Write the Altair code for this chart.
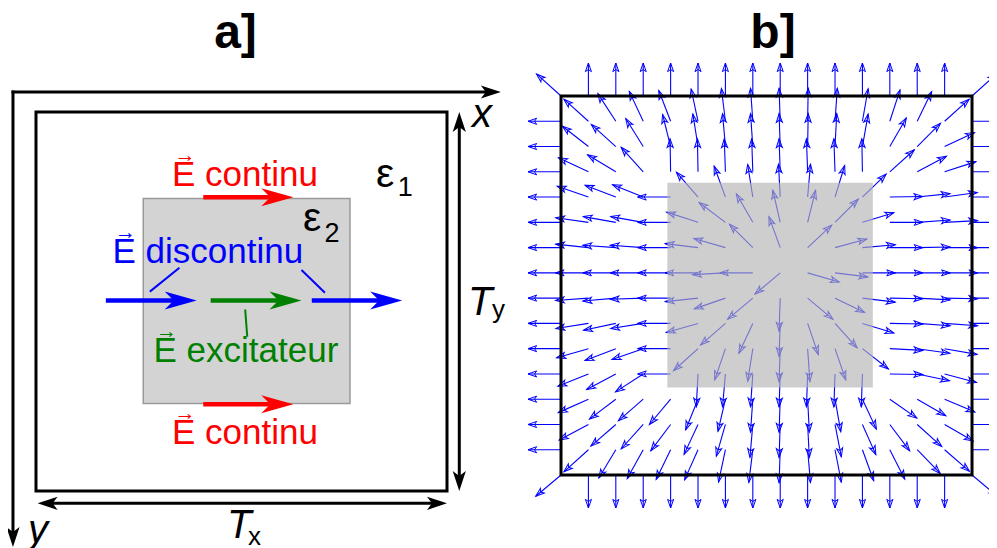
import math
import altair as alt
import pandas as pd

# ---------------- coordinate system: one unit = one period cell (Tx, Ty) ----------------
PX_X, PX_Y = 411, 379                     # pixels per cell unit
X_DOMAIN = [-0.0681, 2.3187]
Y_DOMAIN = [-0.2744, 1.1504]
W = round((X_DOMAIN[1] - X_DOMAIN[0]) * PX_X)
H = round((Y_DOMAIN[1] - Y_DOMAIN[0]) * PX_Y)

B_X0, B_Y0 = 1.2774, -0.0422              # origin of panel b's cell
GRID_N = 15                               # panel b: 16 x 16 nodes

# ---------------- panel a data ----------------
CELL = [0.0, 1.0, 0.0, 1.0]
INCL_A = [0.261, 0.764, 0.228, 0.769]
INCL_B = [0.2587, 0.7587, 0.2287, 0.7693]

AXIS_ORIGIN = (-0.0560, -0.0528)
AXIS_X_TIP = 1.1310
AXIS_Y_TIP = 1.1478
TY_X = 1.0299
TX_Y = 1.0325

FIELD_TAIL_X = [0.407, 0.407, 0.170, 0.425, 0.671]
FIELD_TIP_X = [0.626, 0.626, 0.391, 0.646, 0.891]
FIELD_Y = [0.225, 0.771, 0.4974, 0.4974, 0.4974]
FIELD_COLOR = ["#ff0000", "#ff0000", "#0000ff", "#008000", "#0000ff"]

LEADER_X = [0.277, 0.646]
LEADER_Y = [0.474, 0.417]
LEADER_X2 = [0.349, 0.703]
LEADER_Y2 = [0.411, 0.477]
GLEADER = [(0.509, 0.521, 0.514, 0.593)]

LABEL_TEXT = ["E continu", "E continu", "E discontinu", "E excitateur"]
LABEL_X = [0.3309, 0.3309, 0.1861, 0.2859]
LABEL_Y = [0.1953, 0.8760, 0.3976, 0.6604]
LABEL_COLOR = ["#ff0000", "#ff0000", "#0000ff", "#008000"]

EPS_TEXT = ["ε", "ε"]
EPS_X = [0.8273, 0.6496]
EPS_Y = [0.1979, 0.3140]
EPS_SUB = ["1", "2"]
EPS_SUB_X = [0.8800, 0.7020]
EPS_SUB_Y = [0.2216, 0.3422]

ITAL_TEXT = ["x", "y", "T", "T"]
ITAL_X = [1.0608, -0.0195, 1.0511, 0.4647]
ITAL_Y = [0.0396, 1.1372, 0.5356, 1.1240]
SUB_TEXT = ["y", "x"]
SUB_X = [1.1095, 0.5158]
SUB_Y = [0.5435, 1.1425]

TITLE_TEXT = ["a]", "b]"]
TITLE_X = [0.4854, 1.7932]
TITLE_Y = [-0.1689, -0.1689]

# ---------------- panel b: field direction (degrees, screen frame) at each node ----------------
QUIVER_DEG = [
    [-138, -90, -90, -90, -90, -90, -90, -90, -90, -90, -90, -90, -90, -90, -90, -42],
    [180, -138, -123, -115, -111, -102, -97, -94, -92, -89, -86, -80, -72, -64, -42, 0],
    [180, -142, -138, -122, -104, -99, -95, -94, -92, -89, -87, -80, -60, -45, -25, 0],
    [180, -155, -149, -132, -91, -91, -92, -92, -92, -92, -92, -91, -42, -28, -18, 0],
    [180, -161, -159, -158, 180, -131, -110, -99, -93, -85, -73, -44, -1, -6, -8, 0],
    [180, -172, -170, -170, 180, -162, -143, -120, -103, -76, -45, -17, 0, -4, -3, 0],
    [180, -174, -176, -176, 180, -173, -164, -135, -110, -43, -15, -5, 0, -1, 0, 0],
    [180, 180, 180, 180, 180, 180, 177, 180, 140, 16, 7, 0, 0, 0, 0, 0],
    [180, 176, 175, 178, 180, 174, 161, 140, 92, 40, 26, 7, 1, 3, 1, 0],
    [180, 171, 168, 171, 180, 164, 139, 115, 92, 71, 48, 17, 1, 4, 4, 0],
    [180, 164, 159, 161, 180, 138, 109, 99, 92, 86, 71, 38, 3, 8, 10, 0],
    [180, 158, 152, 147, 180, 93, 95, 94, 92, 92, 92, 92, 1, 12, 15, 0],
    [180, 156, 143, 139, 130, 112, 103, 94, 92, 87, 80, 65, 35, 30, 23, 0],
    [180, 152, 139, 132, 127, 115, 106, 95, 92, 87, 79, 66, 53, 42, 30, 0],
    [180, 138, 121, 119, 116, 114, 102, 97, 92, 85, 79, 70, 63, 46, 41, 0],
    [140, 90, 90, 90, 90, 90, 90, 90, 90, 90, 90, 90, 90, 90, 90, 40],
]
ARROW_PX = 33

# ---------------- helpers ----------------
FONT = "Liberation Sans"
HEAD_BIG = "M0,0 L0.28,1 L0,0.72 L-0.28,1 Z"
HEAD_BLACK = "M0,0 L0.33,1 L0,0.75 L-0.33,1 Z"
HEAD_SMALL = "M0,0 L0.35,1 L0,0.75 L-0.35,1 Z"


def X(f="x"):
    return alt.X(f"{f}:Q", scale=alt.Scale(domain=X_DOMAIN, nice=False, zero=False), axis=None)


def Y(f="y"):
    return alt.Y(f"{f}:Q", scale=alt.Scale(domain=Y_DOMAIN, nice=False, zero=False, reverse=True), axis=None)


def rules(df, **mark):
    return alt.Chart(df).mark_rule(**mark).encode(x=X(), y=Y(), x2="x2:Q", y2="y2:Q")


def rects(df, **mark):
    return alt.Chart(df).mark_rect(**mark).encode(x=X(), y=Y(), x2="x2:Q", y2="y2:Q")


def heads(df, shape, size, **mark):
    return alt.Chart(df).mark_point(shape=shape, size=size, opacity=1, **mark).encode(
        x=X(), y=Y(), angle=alt.Angle("rot:Q", scale=None))


def texts(df, **mark):
    enc = dict(x=X(), y=Y(), text="t:N")
    if "c" in df.columns:
        enc["color"] = alt.Color("c:N", scale=None)
    return alt.Chart(df).mark_text(font=FONT, baseline="alphabetic", **mark).encode(**enc)


def rect_df(r, dx=0.0, dy=0.0):
    return pd.DataFrame([dict(x=r[0] + dx, x2=r[1] + dx, y=r[2] + dy, y2=r[3] + dy)])


layers = []

# ----- panel a -----
layers.append(rects(rect_df(INCL_A), color="#d3d3d3", stroke="#9a9a9a", strokeWidth=1.5))
layers.append(rects(rect_df(CELL), fillOpacity=0, stroke="black", strokeWidth=3))

ox, oy = AXIS_ORIGIN
black_seg = pd.DataFrame([
    dict(x=ox, y=oy, x2=AXIS_X_TIP - 10 / PX_X, y2=oy),
    dict(x=ox, y=oy, x2=ox, y2=AXIS_Y_TIP - 10 / PX_Y),
    dict(x=TY_X, y=10 / PX_Y, x2=TY_X, y2=1 - 10 / PX_Y),
    dict(x=10 / PX_X, y=TX_Y, x2=1 - 10 / PX_X, y2=TX_Y),
])
layers.append(rules(black_seg, color="black", strokeWidth=3, strokeCap="square"))
black_heads = pd.DataFrame([
    dict(x=AXIS_X_TIP, y=oy, rot=90),
    dict(x=ox, y=AXIS_Y_TIP, rot=180),
    dict(x=TY_X, y=0.0, rot=0),
    dict(x=TY_X, y=1.0, rot=180),
    dict(x=0.004, y=TX_Y, rot=270),
    dict(x=1.0, y=TX_Y, rot=90),
])
layers.append(heads(black_heads, HEAD_BLACK, 1600, filled=True, color="black"))

for tx, px, fy, col in zip(FIELD_TAIL_X, FIELD_TIP_X, FIELD_Y, FIELD_COLOR):
    layers.append(rules(pd.DataFrame([dict(x=tx, y=fy, x2=px - 12 / PX_X, y2=fy)]),
                        color=col, strokeWidth=4.5))
    layers.append(heads(pd.DataFrame([dict(x=px, y=fy, rot=90)]), HEAD_BIG, 4096,
                        filled=True, color=col))

layers.append(rules(pd.DataFrame(dict(x=LEADER_X, y=LEADER_Y, x2=LEADER_X2, y2=LEADER_Y2)),
                    color="#0000ff", strokeWidth=2))
layers.append(rules(pd.DataFrame([dict(x=a, y=b, x2=c, y2=d) for a, b, c, d in GLEADER]),
                    color="#008000", strokeWidth=2))

lab = pd.DataFrame(dict(t=LABEL_TEXT, x=LABEL_X, y=LABEL_Y, c=LABEL_COLOR))
layers.append(texts(lab, align="left", fontSize=35))
hat = lab.assign(t="→")
layers.append(texts(hat, align="center", fontSize=21, dx=13, dy=-24))

layers.append(texts(pd.DataFrame(dict(t=EPS_TEXT, x=EPS_X, y=EPS_Y)), align="left", fontSize=41, color="black"))
layers.append(texts(pd.DataFrame(dict(t=EPS_SUB, x=EPS_SUB_X, y=EPS_SUB_Y)), align="left", fontSize=27, color="black"))
layers.append(texts(pd.DataFrame(dict(t=ITAL_TEXT, x=ITAL_X, y=ITAL_Y)), align="left", fontSize=40,
                    fontStyle="italic", color="black"))
layers.append(texts(pd.DataFrame(dict(t=SUB_TEXT, x=SUB_X, y=SUB_Y)), align="left", fontSize=26, color="black"))

# ----- panel b -----
q = []
for j, row in enumerate(QUIVER_DEG):
    for i, deg in enumerate(row):
        x = B_X0 + i / GRID_N
        y = B_Y0 + j / GRID_N
        t = math.radians(deg)
        q.append(dict(x=x, y=y,
                      x2=x + ARROW_PX * math.cos(t) / PX_X,
                      y2=y + ARROW_PX * math.sin(t) / PX_Y,
                      rot=(deg + 90) % 360))
qdf = pd.DataFrame(q)
layers.append(rules(qdf, color="#0000ff", strokeWidth=1.1))
qh = qdf[["x2", "y2", "rot"]].rename(columns={"x2": "x", "y2": "y"})
layers.append(heads(qh, HEAD_SMALL, 300, filled=False, color="#0000ff", strokeWidth=1))

layers.append(rects(rect_df(INCL_B, B_X0, B_Y0), color="#b4b4b4", opacity=0.65))
layers.append(rects(rect_df(CELL, B_X0, B_Y0), fillOpacity=0, stroke="black", strokeWidth=3))

layers.append(texts(pd.DataFrame(dict(t=TITLE_TEXT, x=TITLE_X, y=TITLE_Y)), align="center",
                    fontSize=48, fontWeight="bold", color="black"))

chart = alt.layer(*layers).properties(
    width=W, height=H, padding=0,
    autosize=alt.AutoSizeParams(type="none"),
    background="white",
).configure_view(stroke=None)

chart.save("out.html", embed_options={"renderer": "svg", "actions": False})
